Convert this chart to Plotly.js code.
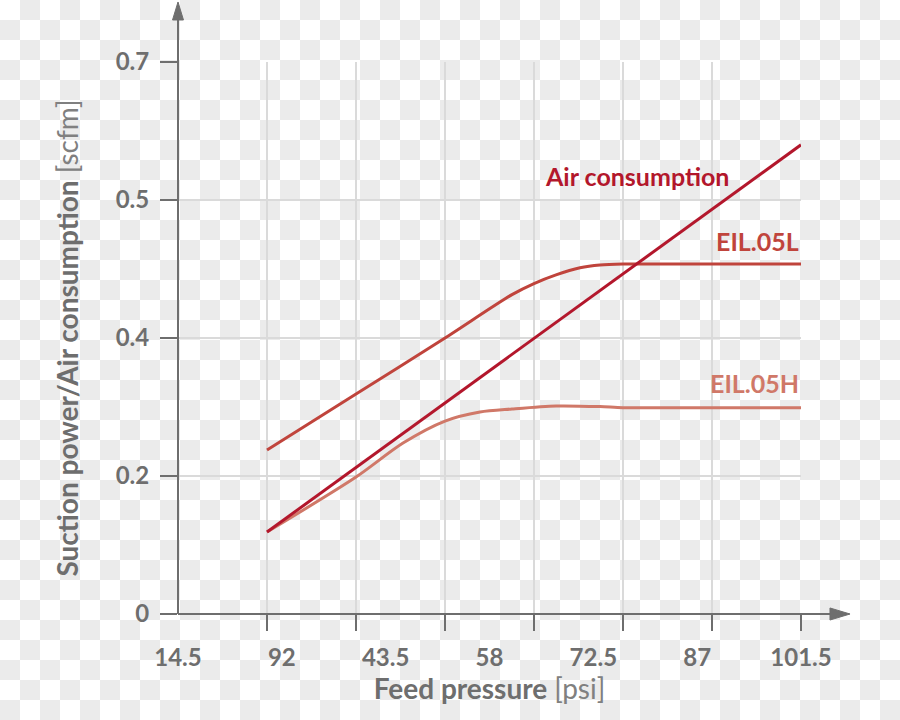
<!DOCTYPE html>
<html>
<head>
<meta charset="utf-8">
<script src="https://cdn.plot.ly/plotly-3.0.1.min.js"></script>
<style>
html, body { margin:0; padding:0; }
body {
  width:900px; height:720px;
  background: repeating-conic-gradient(#ebebeb 0 25%, #ffffff 0 50%) 0 0 / 40px 40px;
}
#chart { width:900px; height:720px; }
</style>
</head>
<body>
<div id="chart"></div>
<script>
// ---- data ----
const xTickVals   = [14.5, 29, 43.5, 58, 72.5, 87, 101.5];
const xTickLabels = ['14.5', '92', '43.5', '58', '72.5', '87', '101.5'];
const xGridVals   = [26.93, 39.36, 51.79, 64.21, 76.64, 89.07, 101.5];
const yTickVals   = [0, 0.175, 0.35, 0.525, 0.7];
const yTickLabels = ['0', '0.2', '0.4', '0.5', '0.7'];

const airX = [26.93, 101.5];
const airY = [0.104, 0.595];

const eilLX = [26.93, 39.36, 51.79, 61.14, 64.21, 67.29, 70.64, 73.43, 76.64, 87.4, 101.5];
const eilLY = [0.208, 0.279, 0.350, 0.405, 0.419, 0.430, 0.439, 0.4426, 0.4438, 0.4438, 0.4438];

const eilHX = [26.93, 39.36, 45.92, 51.79, 56.67, 61.14, 67.29, 73.43, 76.64, 87.4, 101.5];
const eilHY = [0.104, 0.1737, 0.2168, 0.2447, 0.2562, 0.260, 0.2638, 0.263, 0.2616, 0.2616, 0.2616];

const seriesNames = ['Air consumption', 'EIL.05L', 'EIL.05H'];
// ---- styles ----
const cAir = '#b3172c', cL = '#c0443c', cH = '#d07868';
const gray = '#6e6e6e';
const FONT = 'Lato, "Open Sans", sans-serif';

const traces = [
  {x: eilHX, y: eilHY, mode: 'lines', line: {color: cH, width: 3, shape: 'spline', smoothing: 0.8}, name: seriesNames[2], hoverinfo: 'skip'},
  {x: eilLX, y: eilLY, mode: 'lines', line: {color: cL, width: 3, shape: 'spline', smoothing: 0.8}, name: seriesNames[1], hoverinfo: 'skip'},
  {x: airX, y: airY, mode: 'lines', line: {color: cAir, width: 3}, name: seriesNames[0], hoverinfo: 'skip'},
  {x: [xGridVals[0]], y: [0], xaxis: 'x2', mode: 'markers', marker: {opacity: 0}, hoverinfo: 'skip', showlegend: false}
];

const layout = {
  width: 900, height: 720,
  margin: {l: 178, r: 99, t: 62, b: 106},
  paper_bgcolor: 'rgba(0,0,0,0)',
  plot_bgcolor: 'rgba(0,0,0,0)',
  showlegend: false,
  font: {family: FONT, color: gray},
  xaxis: {
    range: [14.5, 101.5], tickmode: 'array', tickvals: xTickVals, ticktext: xTickLabels,
    showgrid: false, zeroline: false, showline: false, ticks: '',
    tickfont: {size: 24, family: FONT, color: gray, weight: 'bold'},
    ticklabelstandoff: 27,
    title: {text: '<b>Feed pressure</b> <span style="font-weight:normal;color:#808080">[psi]</span>', font: {size: 28, family: FONT, color: gray}, standoff: 4}
  },
  xaxis2: {
    range: [14.5, 101.5], overlaying: 'x', anchor: 'y', side: 'bottom',
    tickmode: 'array', tickvals: xGridVals, showticklabels: false,
    showgrid: true, gridcolor: '#dadada', gridwidth: 2,
    ticks: 'outside', ticklen: 16, tickwidth: 2, tickcolor: gray,
    zeroline: false, showline: false
  },
  yaxis: {
    range: [0, 0.7], tickmode: 'array', tickvals: yTickVals, ticktext: yTickLabels,
    showgrid: true, gridcolor: '#dadada', gridwidth: 2, zeroline: false, showline: false,
    ticks: 'outside', ticklen: 17, tickwidth: 2, tickcolor: gray,
    tickfont: {size: 24, family: FONT, color: gray, weight: 'bold'},
    ticklabelstandoff: 6,
    title: {text: '<b>Suction power/Air consumption</b> <span style="font-weight:normal;color:#808080">[scfm]</span>', font: {size: 28, family: FONT, color: gray}, standoff: 28}
  },
  shapes: [
    {type: 'line', xref: 'paper', yref: 'paper', x0: 0, y0: 0, x1: 0, y1: 1.08, line: {color: gray, width: 2}, layer: 'above'},
    {type: 'path', xref: 'paper', yref: 'paper', path: 'M -0.0088 1.0761 L 0.0088 1.0761 L 0 1.1087 Z', fillcolor: gray, line: {color: gray, width: 1}, layer: 'above'},
    {type: 'line', xref: 'paper', yref: 'paper', x0: 0, y0: 0, x1: 1.05, y1: 0, line: {color: gray, width: 2}, layer: 'above'},
    {type: 'path', xref: 'paper', yref: 'paper', path: 'M 1.0465 -0.0109 L 1.0465 0.0109 L 1.0787 0 Z', fillcolor: gray, line: {color: gray, width: 1}, layer: 'above'}
  ],
  annotations: [
    {x: 65.47, y: 0.5554, xref: 'x', yref: 'y', xanchor: 'left', yanchor: 'middle', showarrow: false, text: '<b>' + seriesNames[0] + '</b>', font: {size: 25, family: FONT, color: cAir}},
    {x: 101.5, y: 0.473, xref: 'x', yref: 'y', xanchor: 'right', yanchor: 'middle', showarrow: false, text: '<b>' + seriesNames[1] + '</b>', font: {size: 25, family: FONT, color: cL}},
    {x: 101.5, y: 0.293, xref: 'x', yref: 'y', xanchor: 'right', yanchor: 'middle', showarrow: false, text: '<b>' + seriesNames[2] + '</b>', font: {size: 25, family: FONT, color: cH}}
  ]
};

Plotly.newPlot('chart', traces, layout, {staticPlot: true, displayModeBar: false});
</script>
</body>
</html>
